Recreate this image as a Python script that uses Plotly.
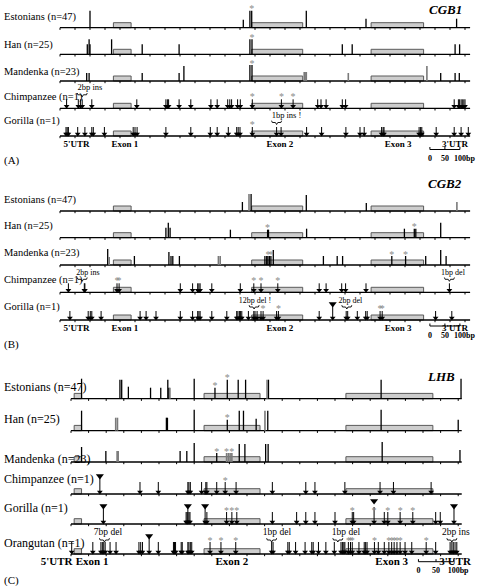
import plotly.graph_objects as go

FONT = "Liberation Serif"

# ---------------- data ----------------
GENE_NAMES = ["CGB1", "CGB2", "LHB"]
PANEL_TAGS = ["(A)", "(B)", "(C)"]
ROW_NAMES = ["Estonians (n=47)", "Han (n=25)", "Mandenka (n=23)",
             "Chimpanzee (n=1)", "Gorilla (n=1)", "Orangutan (n=1)"]
REGION_NAMES = ["5'UTR", "Exon 1", "Exon 2", "Exon 3", "3'UTR"]
REGION_BP_AB = [55, 216, 733, 1127, 1317]
REGION_BP_C = [-41, 60, 457, 911, 1091]
EXONS_AB = [(178, 237), (639, 809), (1037, 1212)]
EXONS_C = [(9, 30), (378, 537), (781, 1028)]
GENE_LEN_AB = 1367
GENE_LEN_C = 1110
TICK_STEP_BP = 50
SCALE_BAR_BP = [0, 50, 100]
SCALE_BAR_TXT = ["0", "50", "100bp"]

# population tracks: (position bp, bar height, flags: g = grey bar, s = asterisk)
A_EST = [(100, 17, ""), (611, 8, ""), (633, 17, ""), (639, 17, "s"), (821, 17, ""),
         (1020, 9, ""), (1322, 9, "")]
A_HAN = [(91, 10, ""), (97, 15, ""), (100, 10, ""), (172, 15, ""), (274, 10, ""),
         (397, 10, ""), (633, 15, ""), (640, 15, "s"), (941, 10, ""), (974, 10, ""),
         (1317, 10, ""), (1332, 10, "")]
A_MAN = [(89, 8, ""), (97, 8, ""), (274, 8, ""), (397, 8, ""), (413, 15, ""),
         (633, 16, ""), (640, 16, "s"), (814, 9, "g"), (817, 9, "g"), (821, 9, "g"),
         (961, 8, "g"), (1223, 15, "g"), (1269, 8, ""), (1317, 8, ""), (1331, 8, "")]

B_EST = [(608, 9, ""), (630, 17, "g"), (637, 17, ""), (821, 16, ""), (1021, 8, ""),
         (1323, 9, "g")]
B_HAN = [(353, 10, ""), (361, 15, ""), (367, 10, ""), (568, 8, ""), (692, 8, "s"),
         (695, 8, ""), (822, 9, ""), (1148, 9, ""), (1181, 9, "s"), (1186, 9, ""),
         (1269, 15, "")]
B_MAN = [(159, 16, ""), (164, 8, "g"), (248, 9, ""), (363, 13, ""), (370, 9, ""),
         (376, 9, ""), (398, 9, ""), (528, 9, "g"), (534, 9, "g"), (683, 9, ""),
         (689, 9, ""), (693, 9, "s"), (698, 9, ""), (703, 9, "s"), (711, 15, ""),
         (878, 9, ""), (924, 9, ""), (942, 9, ""), (1106, 9, "s"), (1152, 9, "s"),
         (1219, 9, ""), (1269, 15, ""), (1287, 9, "")]

C_EST = [(30, 20, ""), (139, 19, ""), (144, 19, ""), (163, 12, ""), (226, 11, ""),
         (255, 11, ""), (275, 19, ""), (278, 11, ""), (281, 11, "g"), (350, 20, ""),
         (409, 11, "s"), (444, 19, "s"), (475, 19, ""), (496, 19, ""), (557, 19, "g"),
         (561, 19, ""), (881, 19, ""), (1108, 20, "")]
C_HAN = [(30, 20, ""), (127, 13, "g"), (132, 13, "g"), (271, 13, ""), (274, 13, ""),
         (350, 21, ""), (444, 11, "s"), (478, 20, ""), (490, 20, ""), (526, 12, ""),
         (551, 20, "g"), (559, 20, ""), (881, 21, ""), (1100, 11, "")]
C_MAN = [(30, 15, ""), (99, 11, ""), (131, 11, "g"), (134, 11, "g"), (310, 11, ""),
         (329, 11, ""), (350, 19, ""), (414, 9, "s"), (442, 9, "gs"), (447, 9, "g"),
         (452, 9, "g"), (457, 9, "gs"), (478, 18, ""), (494, 18, ""), (553, 18, ""),
         (560, 18, ""), (884, 20, ""), (1105, 12, "")]

# ape tracks: fixed differences (arrows), asterisks, triangles, indels (text, text bp, brace bp)
A_CHI = [22, 61, 68, 74, 106, 256, 353, 358, 362, 397, 436, 503, 524, 559, 566, 572,
         592, 601, 641, 738, 777, 859, 870, 887, 941, 952, 1314, 1328, 1332, 1337,
         1341, 1346, 1350]
A_CHI_STAR = [641, 738, 777]
A_CHI_TRI = []
A_CHI_INDEL = [("2bp ins", 100, 74)]
A_GOR = [20, 24, 28, 59, 83, 106, 111, 148, 244, 250, 257, 353, 436, 501, 524, 561,
         589, 594, 600, 641, 722, 737, 822, 872, 953, 1000, 1014, 1072, 1077, 1080,
         1197, 1202, 1206, 1254, 1314, 1337, 1361]
A_GOR_STAR = [641]
A_GOR_TRI = []
A_GOR_INDEL = [("1bp ins !", 755, 722)]

B_CHI = [28, 81, 83, 190, 197, 401, 442, 459, 463, 467, 506, 601, 646, 670, 726, 864,
         887, 939, 952, 1020, 1298]
B_CHI_STAR = [190, 197, 646, 670, 726]
B_CHI_TRI = []
B_CHI_INDEL = [("2bp ins", 93, 74), ("1bp del", 1310, 1298)]
B_GOR = [33, 94, 101, 106, 137, 267, 287, 320, 401, 442, 459, 463, 467, 506, 556,
         589, 593, 598, 602, 606, 628, 646, 650, 657, 670, 677, 722, 728, 864, 909,
         954, 959, 991, 1019, 1024, 1067, 1074, 1252, 1306]
B_GOR_STAR = [677, 728, 1067, 1074]
B_GOR_TRI = [909]
B_GOR_INDEL = [("12bp del !", 650, 647), ("2bp del", 968, 956)]

C_CHI = [82, 196, 248, 332, 335, 339, 371, 383, 386, 414, 438, 469, 572, 667, 693,
         778, 878, 916, 1023]
C_CHI_STAR = [438]
C_CHI_TRI = [82]
C_CHI_INDEL = []
C_GOR = [92, 327, 330, 332, 335, 338, 381, 386, 442, 457, 471, 572, 641, 667, 693,
         750, 799, 803, 861, 890, 900, 935, 971, 1036, 1049, 1088]
C_GOR_STAR = [442, 457, 471, 799, 861, 900, 935, 971]
C_GOR_TRI = [92, 332, 381, 861, 1088]
C_GOR_INDEL = []
C_ORA = [2, 62, 85, 89, 93, 97, 111, 128, 193, 198, 203, 222, 248, 291, 294, 297, 313,
         316, 332, 335, 339, 343, 395, 426, 468, 570, 574, 616, 620, 638, 665, 684,
         688, 703, 724, 748, 767, 771, 775, 778, 788, 794, 799, 818, 833, 837, 841,
         862, 873, 890, 903, 911, 918, 926, 935, 949, 968, 1009, 1036, 1077, 1082,
         1086, 1091, 1096]
C_ORA_STAR = [395, 426, 468, 788, 794, 799, 862, 903, 911, 918, 926, 935, 1009]
C_ORA_TRI = [222]
C_ORA_INDEL = [("7bp del", 105, 95), ("1bp del", 585, 570), ("1bp del", 781, 758),
               ("2bp ins", 1093, 1082)]

PANEL_TRACKS = [
    [("pop", A_EST), ("pop", A_HAN), ("pop", A_MAN),
     ("ape", A_CHI, A_CHI_STAR, A_CHI_TRI, A_CHI_INDEL),
     ("ape", A_GOR, A_GOR_STAR, A_GOR_TRI, A_GOR_INDEL)],
    [("pop", B_EST), ("pop", B_HAN), ("pop", B_MAN),
     ("ape", B_CHI, B_CHI_STAR, B_CHI_TRI, B_CHI_INDEL),
     ("ape", B_GOR, B_GOR_STAR, B_GOR_TRI, B_GOR_INDEL)],
    [("pop", C_EST), ("pop", C_HAN), ("pop", C_MAN),
     ("ape", C_CHI, C_CHI_STAR, C_CHI_TRI, C_CHI_INDEL),
     ("ape", C_GOR, C_GOR_STAR, C_GOR_TRI, C_GOR_INDEL),
     ("ape", C_ORA, C_ORA_STAR, C_ORA_TRI, C_ORA_INDEL)],
]

# ---------------- layout geometry (pixel rows) ----------------
W, H = 480, 586
GEOM = [
    dict(ax="x", k=0.3, exons=EXONS_AB, length=GENE_LEN_AB, regions=REGION_BP_AB,
         bases=[27.7, 54.3, 81, 108.3, 136], label_y=[16.7, 45, 72, 97, 121],
         label_size=10.5, gene_x=445, gene_y=9, gene_size=13, tag_y=160,
         region_y=145, region_size=9, scale_y=149.5, scale_start=1233,
         arrow_len=9, box_h=5, indel_size=8.5, indel_dy=20, brace_dy=13.5,
         tri_dy=16, star_dy=13),
    dict(ax="x", k=0.3, exons=EXONS_AB, length=GENE_LEN_AB, regions=REGION_BP_AB,
         bases=[211, 237.7, 265, 292.3, 320], label_y=[200, 226, 253.3, 280, 306.7],
         label_size=10.5, gene_x=445, gene_y=183, gene_size=13, tag_y=344,
         region_y=328.3, region_size=9, scale_y=326, scale_start=1233,
         arrow_len=9, box_h=5, indel_size=8, indel_dy=19, brace_dy=13,
         tri_dy=16, star_dy=13),
    dict(ax="x2", k=0.352, exons=EXONS_C, length=GENE_LEN_C, regions=REGION_BP_C,
         bases=[398.7, 430.7, 462, 494, 524, 554],
         label_y=[386.7, 419.3, 459.3, 479.3, 507.7, 543.3],
         label_size=12, gene_x=440.5, gene_y=376.7, gene_size=13, tag_y=580,
         region_y=562.7, region_size=11, scale_y=561.7, scale_start=987,
         arrow_len=12, box_h=5.3, indel_size=9.5, indel_dy=21, brace_dy=14,
         tri_dy=18, star_dy=15),
]

STAR_COLOR = "#8a8a8a"
GREY_BAR = "#7a7a7a"

fig = go.Figure()
shapes = []
annotations = []


def seg_xy(xs, y0s, y1s):
    X, Y = [], []
    for x, a, b in zip(xs, y0s, y1s):
        X += [x, x, None]
        Y += [a, b, None]
    return X, Y


def add_lines(X, Y, ax, color, width):
    fig.add_trace(go.Scatter(x=X, y=Y, xaxis=ax, yaxis="y", mode="lines",
                             line=dict(color=color, width=width),
                             hoverinfo="skip", showlegend=False))


def add_text(xs, ys, texts, ax, size, color="black", bold=False):
    fig.add_trace(go.Scatter(x=xs, y=ys, xaxis=ax, yaxis="y", mode="text",
                             text=texts, textposition="middle center",
                             textfont=dict(family=FONT, size=size, color=color,
                                           weight="bold" if bold else "normal"),
                             hoverinfo="skip", showlegend=False, cliponaxis=False))


for pi, (g, tracks) in enumerate(zip(GEOM, PANEL_TRACKS)):
    ax = g["ax"]
    k = g["k"]
    for i, tr in enumerate(tracks):
        base = g["bases"][i]
        annotations.append(dict(text=ROW_NAMES[i], xref="paper", yref="y",
                                x=1.5 / W, y=g["label_y"][i], xanchor="left",
                                yanchor="middle", showarrow=False,
                                font=dict(family=FONT, size=g["label_size"], color="black")))
        for e0, e1 in g["exons"]:
            shapes.append(dict(type="rect", xref=ax, yref="y", x0=e0, x1=e1,
                               y0=base, y1=base - g["box_h"], fillcolor="#cdcdcd",
                               line=dict(color="#5a5a5a", width=1), layer="below"))
        add_lines([0, g["length"]], [base, base], ax, "black", 1.3)
        tx = list(range(0, g["length"] + 1, TICK_STEP_BP))
        X, Y = seg_xy(tx, [base] * len(tx), [base + 2.2] * len(tx))
        add_lines(X, Y, ax, "black", 1)

        if tr[0] == "pop":
            data = tr[1]
            blk = [d for d in data if "g" not in d[2]]
            gry = [d for d in data if "g" in d[2]]
            if blk:
                X, Y = seg_xy([d[0] for d in blk], [base] * len(blk),
                              [base - d[1] for d in blk])
                add_lines(X, Y, ax, "black", 1.3)
            if gry:
                X, Y = seg_xy([d[0] for d in gry], [base] * len(gry),
                              [base - d[1] for d in gry])
                add_lines(X, Y, ax, GREY_BAR, 1.6)
            st = [d for d in data if "s" in d[2]]
            if st:
                add_text([d[0] for d in st], [base - d[1] - 1 for d in st],
                         ["*"] * len(st), ax, 10, STAR_COLOR)
        else:
            _, arrows, stars, tris, indels = tr
            tops = [base - (g["tri_dy"] - 1) if p in tris else base - g["arrow_len"]
                    for p in arrows]
            X, Y = seg_xy(arrows, tops, [base - 2.5] * len(arrows))
            add_lines(X, Y, ax, "black", 1)
            fig.add_trace(go.Scatter(x=arrows, y=[base - 2] * len(arrows), xaxis=ax,
                                     yaxis="y", mode="markers",
                                     marker=dict(symbol="triangle-down", size=5,
                                                 color="black", line=dict(width=0)),
                                     hoverinfo="skip", showlegend=False, cliponaxis=False))
            if tris:
                fig.add_trace(go.Scatter(
                    x=tris,
                    y=[base - g["tri_dy"] - (5 if p in stars else 0) for p in tris],
                    xaxis=ax, yaxis="y", mode="markers",
                    marker=dict(symbol="triangle-down", size=7, color="black",
                                line=dict(width=0)),
                    hoverinfo="skip", showlegend=False, cliponaxis=False))
            if stars:
                add_text(stars, [base - g["star_dy"] + 2.5] * len(stars),
                         ["*"] * len(stars), ax, 10, STAR_COLOR)
            for txt, tbp, bbp in indels:
                add_text([tbp], [base - g["indel_dy"]], [txt], ax, g["indel_size"])
                by = base - g["brace_dy"]
                offs = [(-5, -1.8), (-4.3, 0), (-1.2, 0), (0, 2), (1.2, 0), (4.3, 0), (5, -1.8)]
                add_lines([bbp + dx / k for dx, _ in offs], [by + dy for _, dy in offs],
                          ax, "black", 0.9)

    # region labels under the last track
    add_text(g["regions"], [g["region_y"]] * len(REGION_NAMES), REGION_NAMES, ax,
             g["region_size"], bold=True)
    # scale bar
    s0 = g["scale_start"]
    sy = g["scale_y"]
    add_lines([s0 + SCALE_BAR_BP[0], s0 + SCALE_BAR_BP[-1]], [sy, sy], ax, "black", 1)
    X, Y = seg_xy([s0 + b for b in SCALE_BAR_BP], [sy] * 3, [sy - 2.5] * 3)
    add_lines(X, Y, ax, "black", 1)
    add_text([s0 + SCALE_BAR_BP[0], s0 + SCALE_BAR_BP[1], s0 + SCALE_BAR_BP[2] + 4.5 / k],
             [sy + 9.5] * 3, SCALE_BAR_TXT, ax, 8, bold=True)
    # gene name and panel tag
    annotations.append(dict(text="<b><i>" + GENE_NAMES[pi] + "</i></b>", xref="paper",
                            yref="y", x=g["gene_x"] / W, y=g["gene_y"], xanchor="center",
                            yanchor="middle", showarrow=False,
                            font=dict(family=FONT, size=g["gene_size"], color="black")))
    annotations.append(dict(text=PANEL_TAGS[pi], xref="paper", yref="y", x=1.5 / W,
                            y=g["tag_y"], xanchor="left", yanchor="middle",
                            showarrow=False,
                            font=dict(family=FONT, size=11, color="black")))

fig.update_layout(
    width=W, height=H, autosize=False,
    margin=dict(l=0, r=0, t=0, b=0),
    paper_bgcolor="white", plot_bgcolor="white",
    xaxis=dict(range=[-200, 1400], visible=False, domain=[0, 1], fixedrange=True),
    xaxis2=dict(range=[-201.7, 1161.9], visible=False, overlaying="x", anchor="y",
                fixedrange=True),
    yaxis=dict(range=[H, 0], visible=False, domain=[0, 1], fixedrange=True),
    shapes=shapes, annotations=annotations, showlegend=False,
)

fig.write_html(
    "out.html",
    config={"displayModeBar": False, "staticPlot": True},
    post_script="document.documentElement.style.margin='0';"
                "document.documentElement.style.padding='0';"
                "document.body.style.margin='0';document.body.style.padding='0';"
                "document.body.style.overflow='hidden';",
)
